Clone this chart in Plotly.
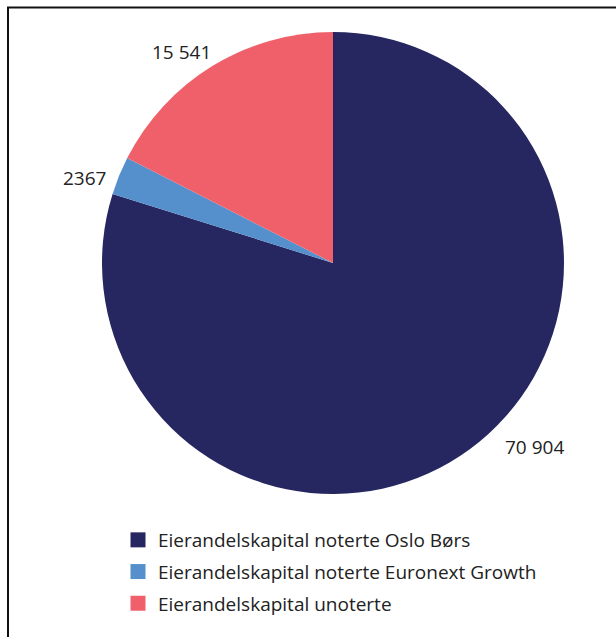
import plotly.graph_objects as go

# Eierandelskapital fordelt på type (mill. kroner)
categories = [
    "Eierandelskapital noterte Oslo Børs",
    "Eierandelskapital noterte Euronext Growth",
    "Eierandelskapital unoterte",
]
values = [70904, 2367, 15541]
colors = ["#262660", "#5590CC", "#F0606A"]

# Pixel positions (centre of text) for the value labels
label_px = [(534, 447), (84, 178), (181, 52)]

W, H = 616, 637
FONT = "Open Sans"
TEXT_COLOR = "#222222"


def fmt(v):
    # Norwegian style: space as thousands separator, none for four digits
    if v >= 10000:
        return f"{v:,}".replace(",", " ")
    return str(v)


fig = go.Figure()

fig.add_trace(
    go.Pie(
        labels=categories,
        values=values,
        sort=False,
        direction="clockwise",
        rotation=0,
        marker=dict(colors=colors, line=dict(width=0)),
        textinfo="none",
        hoverinfo="label+value",
        domain=dict(x=[102 / W, 564 / W], y=[1 - 494 / H, 1 - 32 / H]),
        showlegend=False,
    )
)

# Legend entries: one square swatch per category
for i, (cat, col) in enumerate(zip(categories, colors)):
    fig.add_trace(
        go.Scatter(
            x=[None],
            y=[None],
            mode="markers",
            name=cat,
            marker=dict(symbol="square", size=15, color=col),
            legendgroup=f"g{i}",
            showlegend=True,
            hoverinfo="skip",
        )
    )

annotations = []
for v, (px, py) in zip(values, label_px):
    annotations.append(
        dict(
            text=fmt(v),
            x=px / W,
            y=1 - py / H,
            xref="paper",
            yref="paper",
            xanchor="center",
            yanchor="middle",
            showarrow=False,
            font=dict(family=FONT, size=19, color=TEXT_COLOR),
        )
    )

fig.update_layout(
    width=W,
    height=H,
    margin=dict(l=0, r=0, t=0, b=0),
    paper_bgcolor="white",
    plot_bgcolor="white",
    xaxis=dict(visible=False),
    yaxis=dict(visible=False),
    annotations=annotations,
    legend=dict(
        x=118 / W,
        y=1 - 521 / H,
        xanchor="left",
        yanchor="top",
        font=dict(family=FONT, size=19, color=TEXT_COLOR),
        bgcolor="rgba(0,0,0,0)",
        tracegroupgap=4,
        itemsizing="trace",
    ),
    shapes=[
        dict(
            type="rect",
            xref="paper",
            yref="paper",
            x0=8 / W,
            x1=1.02,
            y0=-0.02,
            y1=1 - 7.5 / H,
            line=dict(color="#111111", width=2),
            fillcolor="rgba(0,0,0,0)",
            layer="below",
        )
    ],
)

fig.write_html("out.html")
